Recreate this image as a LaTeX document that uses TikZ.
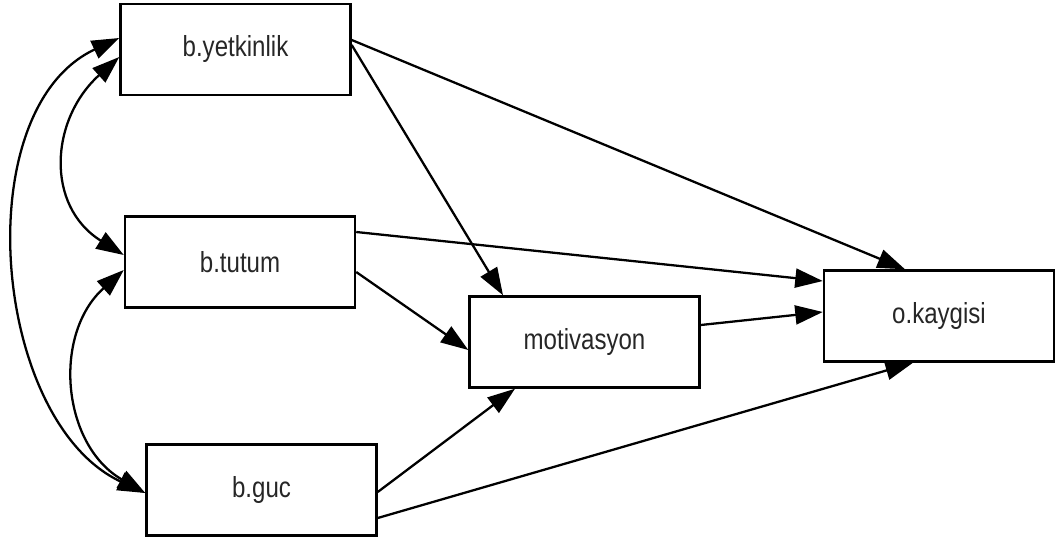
\documentclass[tikz,border=0pt]{standalone}
\usepackage{fontspec}
\newfontfamily\boxfont[FakeStretch=0.83]{Liberation Sans}
\usetikzlibrary{arrows.meta,positioning}

\begin{document}
\begin{tikzpicture}
\tikzstyle{box} = [
	shape=rectangle,
	draw=black, %border of the box
	line width=1.4pt,
	minimum width=4.6cm,
	minimum height=1.82cm,
	inner sep=0pt,
	font=\boxfont\fontsize{16.5}{18}\selectfont,
	text=black!85
];

\useasboundingbox (0,0) rectangle (21.2,10.9);

%predictors
\node[box](yet) at (4.71,9.91) {b.yetkinlik};
\node[box](tut) at (4.80,5.66) {b.tutum};
\node[box](guc) at (5.23,1.10) {b.guc};

%mediator and outcome
\node[box](mot) at (11.69,4.06) {motivasyon};
\node[box](kay) at (18.78,4.58) {o.kaygisi};

%direct paths
\path[-{Triangle[length=5.5mm,width=3.8mm]}, line width=1.3pt, color=black]
	([yshift=0.19cm]yet.east) edge[] ([xshift=-0.68cm]kay.north)
	([yshift=0.09cm]yet.east) edge[] ([xshift=-1.63cm]mot.north)
	([yshift=0.6cm]tut.east) edge[] ([yshift=0.7cm]kay.west)
	([yshift=-0.2cm]tut.east) edge[] ([yshift=-0.16cm]mot.west)
	([yshift=0.34cm]mot.east) edge[] ([yshift=0.08cm]kay.west)
	([yshift=-0.04cm]guc.east) edge[] ([xshift=-1.39cm]mot.south)
	([yshift=-0.56cm]guc.east) edge[] ([xshift=-0.52cm]kay.south)
;

%covariances
\path[{Triangle[length=5.5mm,width=3.8mm]}-{Triangle[length=5.5mm,width=3.8mm]}, line width=1.3pt, color=black]
	([yshift=0.23cm]yet.west) edge[out=205, in=155, looseness=0.95] ([yshift=-0.06cm]guc.west)
	([yshift=-0.15cm]yet.west) edge[out=222, in=148, looseness=1.2] ([yshift=0.14cm]tut.west)
	([yshift=-0.16cm]tut.west) edge[out=222, in=150, looseness=1.1] ([yshift=-0.06cm]guc.west)
;

\end{tikzpicture}
\end{document}
